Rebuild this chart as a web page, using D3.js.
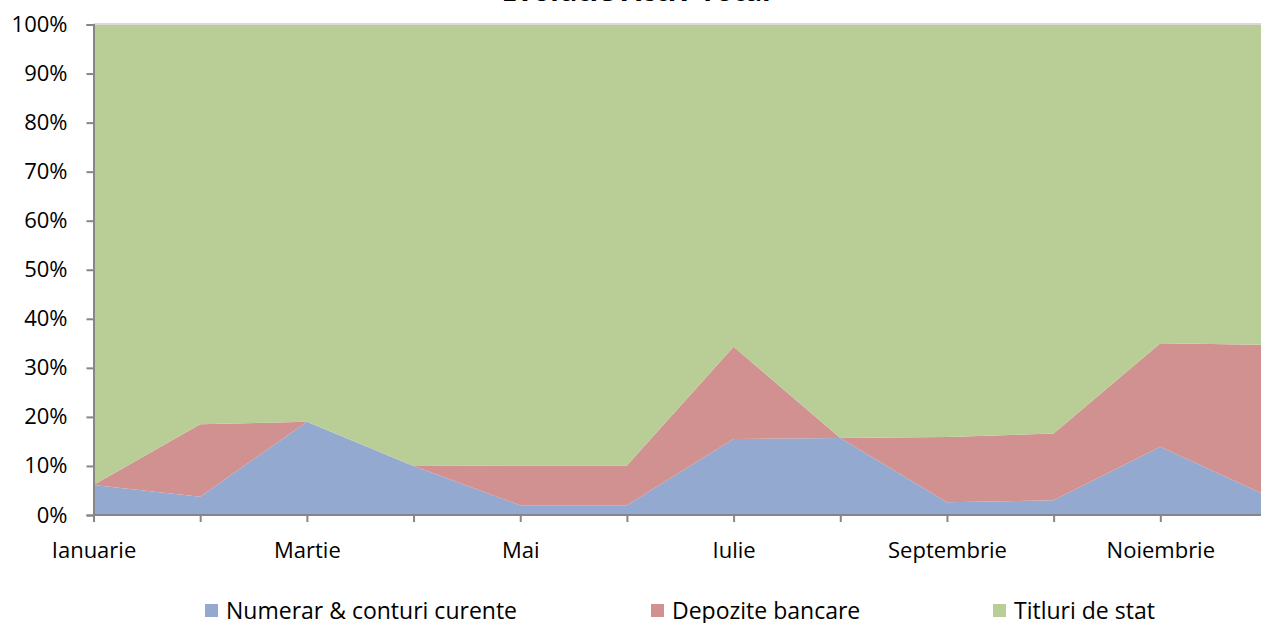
<!DOCTYPE html>
<html>
<head>
<meta charset="utf-8">
<script src="https://cdn.jsdelivr.net/npm/d3@7"></script>
<style>
  body { margin: 0; background: #fff; }
  svg { display: block; font-family: "Open Sans", sans-serif; }
</style>
</head>
<body>
<script>
// data (percent of total)
const months = ["Ianuarie", "Februarie", "Martie", "Aprilie", "Mai", "Iunie",
  "Iulie", "August", "Septembrie", "Octombrie", "Noiembrie", "Decembrie"]
const numerar = [6.1, 3.7, 19.0, 10.0, 2.0, 2.0, 15.5, 15.7, 2.6, 3.0, 13.9, 3.9]
const depozite = [0, 14.8, 0, 0, 8.1, 8.1, 18.8, 0, 13.3, 13.6, 21.1, 30.8]
const titluri = [93.9, 81.5, 81.0, 90.0, 89.9, 89.9, 65.7, 84.3, 84.1, 83.4, 65.0, 65.3]
const seriesNames = ["Numerar & conturi curente", "Depozite bancare", "Titluri de stat"]
const colors = ["#94a9cf", "#d19190", "#b9ce96"]
const yTicks = [0, 0.1, 0.2, 0.3, 0.4, 0.5, 0.6, 0.7, 0.8, 0.9, 1]

const W = 1261, H = 623
const svg = d3.select("body").append("svg")
  .attr("width", W)
  .attr("height", H)

const rows = months.map((m, i) => ({
  month: m,
  [seriesNames[0]]: numerar[i],
  [seriesNames[1]]: depozite[i],
  [seriesNames[2]]: titluri[i]
}))

const stacked = d3.stack()
  .keys(seriesNames)
  .offset(d3.stackOffsetExpand)(rows)

const x = d3.scalePoint()
  .domain(months)
  .range([93.5, 1267])

const y = d3.scaleLinear()
  .domain([0, 1])
  .range([515, 24.5])

const area = d3.area()
  .x(d => x(d.data.month))
  .y0(d => y(d[0]))
  .y1(d => y(d[1]))

svg.append("g")
  .selectAll("path")
  .data(stacked)
  .join("path")
  .attr("d", area)
  .attr("fill", (d, i) => colors[i])

// light line along the top of the plot
svg.append("line")
  .attr("x1", x.range()[0]).attr("x2", W)
  .attr("y1", y(1) - 0.5).attr("y2", y(1) - 0.5)
  .attr("stroke", "#d9d9d9")
  .attr("stroke-width", 2)

// title (mostly above the visible area, as in the original)
svg.append("text")
  .attr("x", 636)
  .attr("y", 1)
  .attr("text-anchor", "middle")
  .style("font-size", "28px")
  .style("font-weight", "bold")
  .text("Evolutie Activ Total")

// y axis
const yAxis = svg.append("g")
  .attr("transform", `translate(${x.range()[0]},0)`)
  .call(d3.axisLeft(y).tickValues(yTicks).tickFormat(d3.format(".0%")).tickSize(7).tickPadding(19))
yAxis.select(".domain").attr("stroke", "#868686").attr("stroke-width", 2)
yAxis.selectAll(".tick line").attr("stroke", "#868686").attr("stroke-width", 2)
yAxis.selectAll(".tick text").style("font-size", "22px").attr("fill", "#000")
  .style("font-family", "'Open Sans', sans-serif")

// x axis
const xAxis = svg.append("g")
  .attr("transform", `translate(0,${y(0)})`)
  .call(d3.axisBottom(x).tickSize(7)
    .tickFormat((d, i) => i % 2 === 0 ? d : ""))
xAxis.select(".domain").attr("stroke", "#868686").attr("stroke-width", 2)
  .attr("d", `M${x.range()[0]},0H${W}`)
xAxis.selectAll(".tick line").attr("stroke", "#868686").attr("stroke-width", 2)
xAxis.selectAll(".tick text").style("font-size", "22px").attr("fill", "#000")
  .style("font-family", "'Open Sans', sans-serif")
  .attr("y", 43).attr("dy", null)

// legend
const legendX = [205, 651, 993]
const legend = svg.append("g")
  .selectAll("g")
  .data(seriesNames)
  .join("g")
  .attr("transform", (d, i) => `translate(${legendX[i]},604)`)
legend.append("rect")
  .attr("width", 13).attr("height", 13)
  .attr("fill", (d, i) => colors[i])
legend.append("text")
  .attr("x", 21).attr("y", 15)
  .style("font-size", "23px")
  .text(d => d)
</script>
</body>
</html>
